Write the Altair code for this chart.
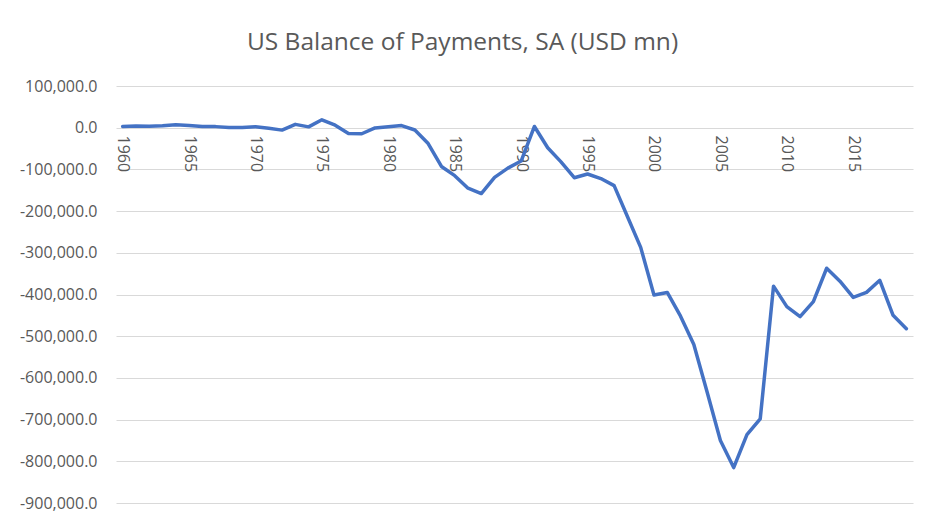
import altair as alt
import pandas as pd

years = list(range(1960, 2020))
balance = [
    2824, 3822, 3387, 4414, 6823, 5431, 3031, 2583, 611, 399,
    2331, -1433, -5795, 8000, 2000, 19000, 6000, -14000, -14500, -500,
    2500, 5000, -5500, -38000, -93000, -115000, -145000, -158000, -119000, -97000,
    -80000, 3000, -48000, -82000, -120000, -111000, -122000, -139000, -213000, -287000,
    -401000, -395000, -452000, -520000, -634000, -750000, -815000, -736000, -698000, -380000,
    -429000, -453000, -417000, -337000, -368000, -407000, -395000, -366000, -450000, -482000,
]
year_ticks = list(range(1960, 2016, 5))
value_ticks = list(range(-900000, 100001, 100000))

df = pd.DataFrame({"year": years, "balance": balance})

FONT = "Open Sans"
GREY = "#595959"

chart = (
    alt.Chart(df)
    .mark_line(color="#4472C4", strokeWidth=3.5, strokeJoin="round", strokeCap="round")
    .encode(
        x=alt.X(
            "year:Q",
            scale=alt.Scale(domain=[1959.5, 2019.5], nice=False, zero=False),
            axis=alt.Axis(
                values=year_ticks,
                format="d",
                labelAngle=90,
                labelAlign="left",
                labelBaseline="middle",
                title=None,
                grid=False,
                domain=False,
                ticks=False,
                tickSize=0,
                labelPadding=7,
                offset=-375,
                labelFlush=False,
                labelOverlap=False,
                labelFont=FONT,
                labelFontSize=16,
                labelColor=GREY,
            ),
        ),
        y=alt.Y(
            "balance:Q",
            scale=alt.Scale(domain=[-900000, 100000], nice=False),
            axis=alt.Axis(
                values=value_ticks,
                labelExpr="replace(format(datum.value, ',.1f'), '\u2212', '-')",
                title=None,
                grid=True,
                gridColor="#d9d9d9",
                gridWidth=1,
                domain=False,
                ticks=False,
                tickSize=0,
                labelPadding=19,
                labelFlush=False,
                labelOverlap=False,
                labelFont=FONT,
                labelFontSize=16,
                labelColor=GREY,
            ),
        ),
    )
    .properties(
        width=797,
        height=417,
        title=alt.Title(
            "US Balance of Payments, SA (USD mn)",
            font=FONT,
            fontSize=24.5,
            fontWeight="normal",
            color=GREY,
            anchor="middle",
            dx=-52,
            offset=23,
        ),
        padding={"left": 108, "top": 78, "right": 21, "bottom": 21},
        autosize=alt.AutoSizeParams(type="none"),
    )
    .configure(
        background="white",
        view=alt.ViewConfig(stroke="transparent", strokeWidth=0),
    )
)

chart.save("out.html", embed_options={"renderer": "svg", "actions": False})
